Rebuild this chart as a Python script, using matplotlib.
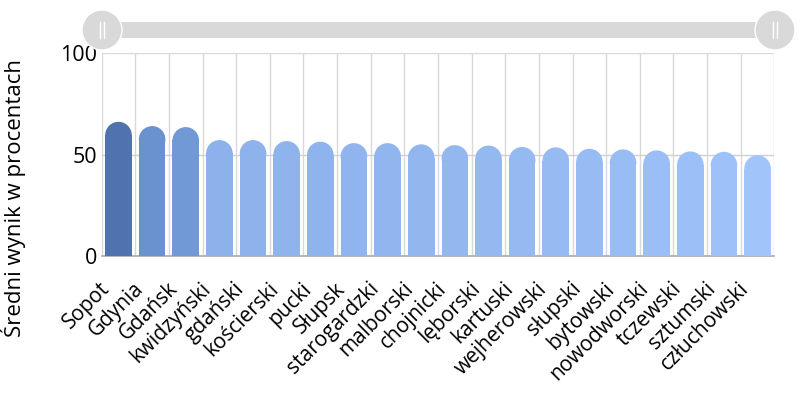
import numpy as np
import matplotlib.pyplot as plt
import matplotlib.transforms as mtrans
from matplotlib.patches import Ellipse, FancyBboxPatch, Circle

plt.rcParams['font.family'] = ['Open Sans', 'DejaVu Sans']

powiaty = ['Sopot', 'Gdynia', 'Gdańsk', 'kwidzyński', 'gdański', 'kościerski',
           'pucki', 'Słupsk', 'starogardzki', 'malborski', 'chojnicki', 'lęborski',
           'kartuski', 'wejherowski', 'słupski', 'bytowski', 'nowodworski',
           'tczewski', 'sztumski', 'człuchowski']
wyniki = [66.2, 64.1, 63.6, 57.2, 57.2, 56.7, 56.4, 55.7, 55.7, 55.1,
          54.7, 54.5, 53.8, 53.6, 52.9, 52.6, 52.1, 51.6, 51.4, 49.7]
kolory = ['#5073AF', '#6A92CE', '#7199D5', '#8DB2EB', '#8EB3EC', '#8FB3EC',
          '#8FB4ED', '#90B4ED', '#91B5EE', '#92B6EE', '#93B7EF', '#94B8F0',
          '#95B9F1', '#96BAF2', '#97BBF3', '#98BCF4', '#9ABEF5', '#9BBFF7',
          '#9DC1F8', '#A1C4FA']

fig = plt.figure(figsize=(8.05, 4.15), dpi=100)
ax = fig.add_axes([0.1263, 0.383, 0.8357, 0.4886])

x = np.arange(len(powiaty))
w = 0.79
ax.set_xlim(-0.5, len(powiaty) - 0.5)
ax.set_ylim(0, 100)

# cap height in data units so the top looks like a half circle
bbox = ax.get_window_extent()
px_x = bbox.width / len(powiaty)
px_y = bbox.height / 100
cap = (w * px_x / 2) / px_y

for xi, v, c in zip(x, wyniki, kolory):
    ax.bar(xi, v - cap, width=w, color=c, zorder=3)
    ax.add_patch(Ellipse((xi, v - cap), w, 2 * cap, color=c, zorder=3, lw=0))

# grid
for b in np.arange(-0.5, len(powiaty), 1):
    ax.axvline(b, color='#D9D9D9', lw=1, zorder=1)
ax.axhline(50, color='#D0D0D0', lw=1, zorder=1)
ax.axhline(100, color='#D9D9D9', lw=1, zorder=1)
for s in ['top', 'right', 'left']:
    ax.spines[s].set_visible(False)
ax.spines['bottom'].set_color('#A9A9A9')
ax.spines['bottom'].set_linewidth(1.2)

ax.set_yticks([0, 50, 100])
ax.tick_params(axis='y', length=0, labelsize=15.5, pad=3.5)
ax.set_xticks(x)
ax.set_xticklabels(powiaty, rotation=45, ha='right', rotation_mode='anchor', fontsize=15)
ax.tick_params(axis='x', length=0, pad=16)
shift = mtrans.ScaledTranslation(-19 / 100, 0, fig.dpi_scale_trans)
for lab in ax.get_xticklabels():
    lab.set_transform(lab.get_transform() + shift)

fig.text(0.0, 0.523, 'Średni wynik w procentach', rotation=90, fontsize=16,
         ha='left', va='center')

# range slider on top
sl = fig.add_axes([0, 0, 1, 1], facecolor='none')
sl.set_xlim(0, 805)
sl.set_ylim(415, 0)
sl.axis('off')
sl.add_patch(FancyBboxPatch((102, 22), 673, 16, boxstyle='square,pad=0',
                            color='#D9D9D9', lw=0))
for cx in [102, 775]:
    sl.add_patch(Circle((cx, 30), 20, facecolor='#D9D9D9', edgecolor='white', lw=1))
    sl.plot([cx - 2.5, cx - 2.5], [22, 38], color='white', lw=1)
    sl.plot([cx + 2, cx + 2], [22, 38], color='white', lw=1)

fig.savefig('out.png', dpi=100)
